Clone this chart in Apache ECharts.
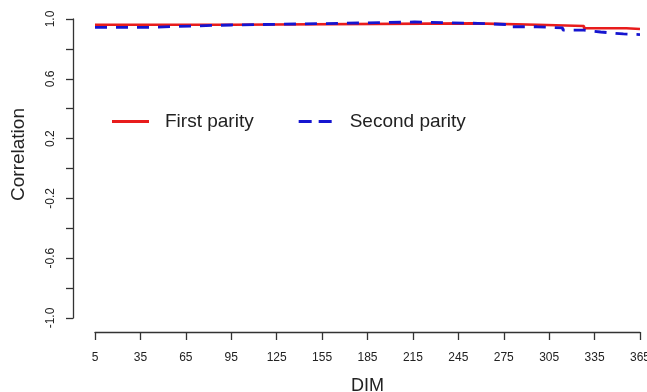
<!DOCTYPE html>
<html>
<head>
<meta charset="utf-8">
<script src="https://cdn.jsdelivr.net/npm/echarts@6/dist/echarts.min.js"></script>
<style>html,body{margin:0;padding:0;background:#fff;}#c{width:647px;height:392px;}</style>
</head>
<body>
<div id="c"></div>
<script>
// DIM breakpoints and correlation values (step lines)
const firstDim  = [5, 95, 255, 297, 328, 356, 365];
const firstCorr = [0.962, 0.971, 0.962, 0.953, 0.938, 0.933, 0.933];
const secondDim  = [5, 42, 68, 95, 166, 216, 258, 279, 297, 314, 328, 339, 354, 365];
const secondCorr = [0.944, 0.953, 0.960, 0.971, 0.980, 0.971, 0.962, 0.948, 0.940, 0.926, 0.913, 0.900, 0.896, 0.896];
const xTicks = [5, 35, 65, 95, 125, 155, 185, 215, 245, 275, 305, 335, 365];
const yLabels = [-1.0, -0.6, -0.2, 0.2, 0.6, 1.0];
const seriesNames = ['First parity', 'Second parity'];

const zip = (a, b) => a.map((v, i) => [v, b[i]]);
const chart = echarts.init(document.getElementById('c'));
const font = 'Liberation Sans, Arial, sans-serif';
const RED = '#e81c1c', BLUE = '#1515d0';
chart.setOption({
  animation: false,
  backgroundColor: '#fff',
  grid: { left: 95, right: 7, top: 19, bottom: 74, outerBoundsMode: 'none', containLabel: false },
  legend: {
    left: 107, top: 107,
    itemWidth: 37, itemHeight: 3, itemGap: 45,
    textStyle: { fontFamily: font, fontSize: 19, color: '#222', padding: [0, 0, 0, 11] },
    data: [
      { name: seriesNames[0], icon: 'rect', itemStyle: { color: RED } },
      { name: seriesNames[1], icon: 'path://M0,0h13v3h-13zM20,0h13v3h-13z', itemStyle: { color: BLUE } }
    ]
  },
  xAxis: {
    type: 'value', min: 5, max: 365, offset: 14,
    name: 'DIM', nameLocation: 'middle', nameGap: 45,
    nameTextStyle: { fontFamily: font, fontSize: 18, color: '#222' },
    axisLine: { show: true, onZero: false, lineStyle: { color: '#333', width: 1.3 } },
    axisTick: { show: true, customValues: xTicks, length: 8, lineStyle: { color: '#333', width: 1.3 } },
    axisLabel: { customValues: xTicks, fontFamily: font, fontSize: 12, color: '#222', margin: 20 },
    splitLine: { show: false }
  },
  yAxis: {
    type: 'value', min: -1, max: 1, interval: 0.2, offset: 22,
    name: 'Correlation', nameLocation: 'middle', nameGap: 45, nameRotate: 90,
    nameTextStyle: { fontFamily: font, fontSize: 19, color: '#222', padding: [0, 0, 0, 28] },
    axisLine: { show: true, onZero: false, lineStyle: { color: '#333', width: 1.3 } },
    axisTick: { show: true, length: 7, lineStyle: { color: '#333', width: 1.3 } },
    axisLabel: {
      customValues: yLabels, rotate: 90, fontFamily: font, fontSize: 12, color: '#222', margin: 16,
      formatter: v => v.toFixed(1)
    },
    splitLine: { show: false }
  },
  series: [
    {
      name: seriesNames[0], type: 'line', step: 'end', showSymbol: false, symbol: 'none',
      data: zip(firstDim, firstCorr),
      lineStyle: { color: RED, width: 2.6 }, itemStyle: { color: RED }
    },
    {
      name: seriesNames[1], type: 'line', step: 'end', showSymbol: false, symbol: 'none',
      data: zip(secondDim, secondCorr),
      lineStyle: { color: BLUE, width: 2.8, type: [12, 9] }, itemStyle: { color: BLUE }
    }
  ]
});
</script>
</body>
</html>
